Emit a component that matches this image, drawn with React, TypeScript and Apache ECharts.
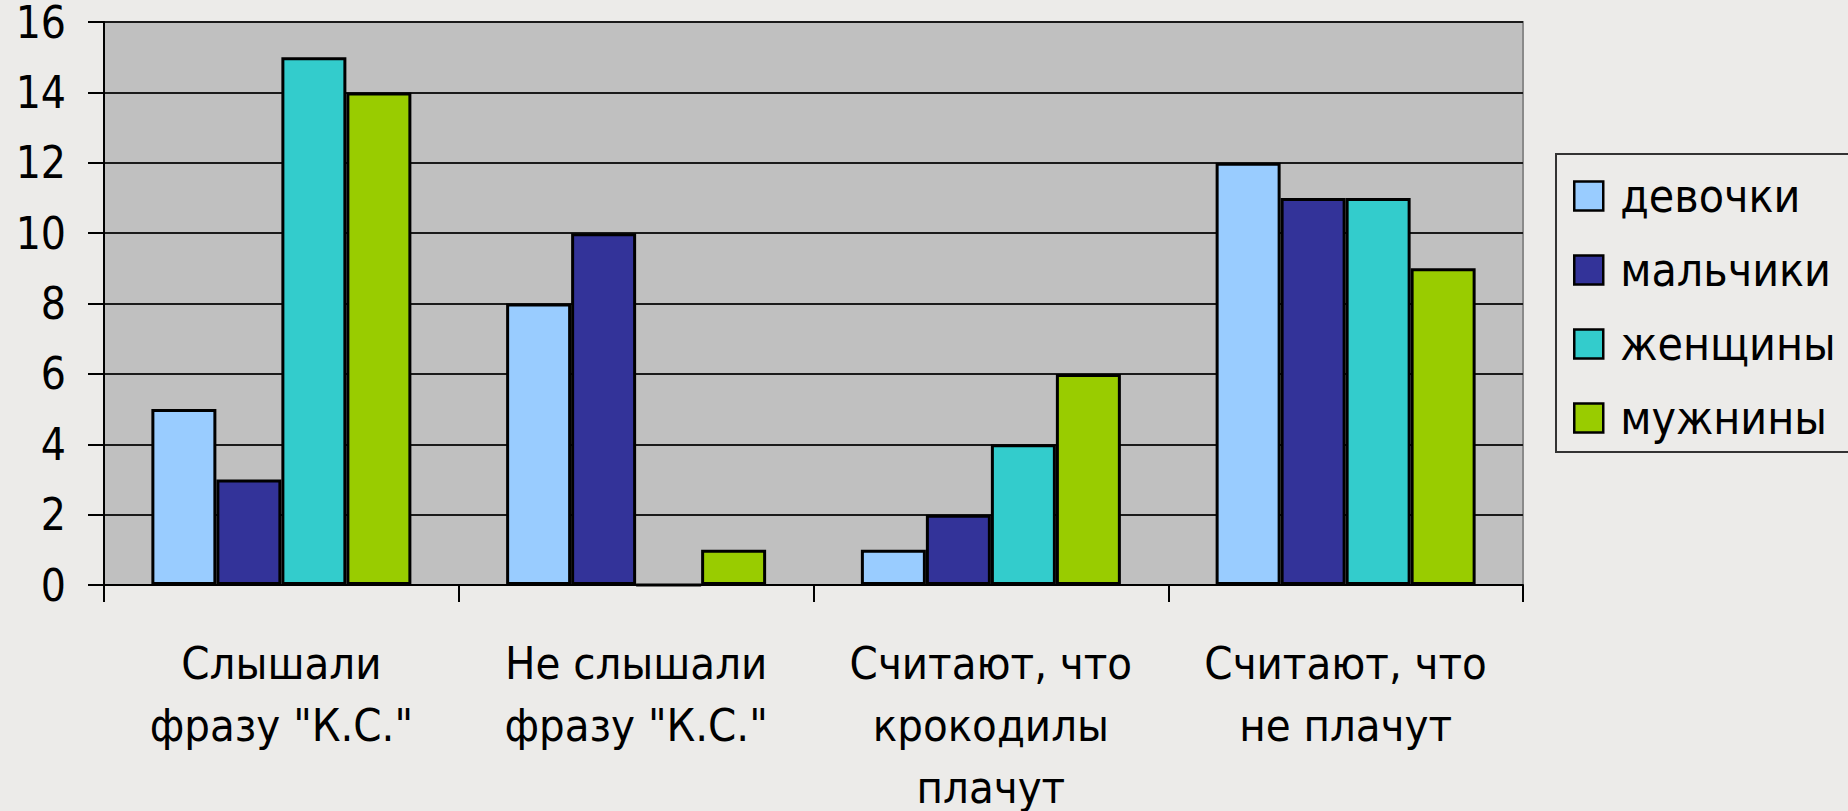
import React, { useEffect, useRef } from "react";
import * as echarts from "echarts";

const categories = [
  "Слышали\nфразу \"К.С.\"",
  "Не слышали\nфразу \"К.С.\"",
  "Считают, что\nкрокодилы\nплачут",
  "Считают, что\nне плачут",
];
const seriesNames = ["девочки", "мальчики", "женщины", "мужнины"];
const girls = [5, 8, 1, 12];
const boys = [3, 10, 2, 11];
const women = [15, 0, 4, 11];
const men = [14, 1, 6, 9];
const seriesValues = [girls, boys, women, men];
const colors = ["#99CCFF", "#333399", "#33CCCC", "#99CC00"];

const FONT = "'DejaVu Sans Condensed', 'DejaVu Sans', sans-serif";

export default function App() {
  const ref = useRef<HTMLDivElement>(null);
  useEffect(() => {
    document.body.style.margin = "0";
    document.body.style.background = "#ECEBE9";
    const chart = echarts.init(ref.current!, null, { renderer: "svg" });
    chart.setOption({
      animation: false,
      backgroundColor: "#ECEBE9",
      textStyle: { fontFamily: FONT },
      grid: {
        left: 104,
        top: 22,
        right: 325,
        bottom: 226,
        containLabel: false,
        outerBoundsMode: "none",
        show: true,
        backgroundColor: "#C0C0C0",
        borderColor: "#8A8A8A",
        borderWidth: 2,
      },
      legend: {
        orient: "vertical",
        left: 1556,
        top: 154,
        padding: [19, 14, 11, 17],
        backgroundColor: "#ECEBE9",
        borderColor: "#333333",
        borderWidth: 2,
        borderRadius: 0,
        itemWidth: 29,
        itemHeight: 29,
        itemGap: 28,
        icon: "rect",
        selectedMode: false,
        itemStyle: { borderColor: "#000", borderWidth: 2.5 },
        textStyle: {
          fontFamily: FONT,
          fontSize: 46,
          color: "#000",
          padding: [0, 0, 0, 12],
        },
        data: seriesNames,
      },
      xAxis: {
        type: "category",
        data: categories,
        axisLine: { lineStyle: { color: "#000", width: 2 } },
        axisTick: { show: true, length: 17, lineStyle: { color: "#000", width: 2 } },
        axisLabel: {
          fontFamily: FONT,
          fontSize: 45,
          color: "#000",
          lineHeight: 62,
          margin: 47,
          interval: 0,
        },
        splitLine: { show: false },
      },
      yAxis: {
        type: "value",
        min: 0,
        max: 16,
        interval: 2,
        axisLine: { show: true, lineStyle: { color: "#000", width: 2 } },
        axisTick: { show: true, length: 16, lineStyle: { color: "#000", width: 2 } },
        axisLabel: {
          fontFamily: FONT,
          fontSize: 44,
          lineHeight: 24,
          color: "#000",
          margin: 38,
          padding: [15, 0, 0, 0],
        },
        splitLine: { show: true, lineStyle: { color: "#1a1a1a", width: 2 } },
      },
      series: seriesNames.map((name, i) => ({
        name,
        type: "bar",
        data: seriesValues[i],
        barWidth: 65,
        barGap: "0%",
        itemStyle: { color: colors[i], borderColor: "#000", borderWidth: 3 },
      })),
    });
    return () => chart.dispose();
  }, []);
  return (
    <div
      ref={ref}
      style={{ position: "absolute", left: 0, top: 0, width: 1848, height: 811 }}
    />
  );
}
